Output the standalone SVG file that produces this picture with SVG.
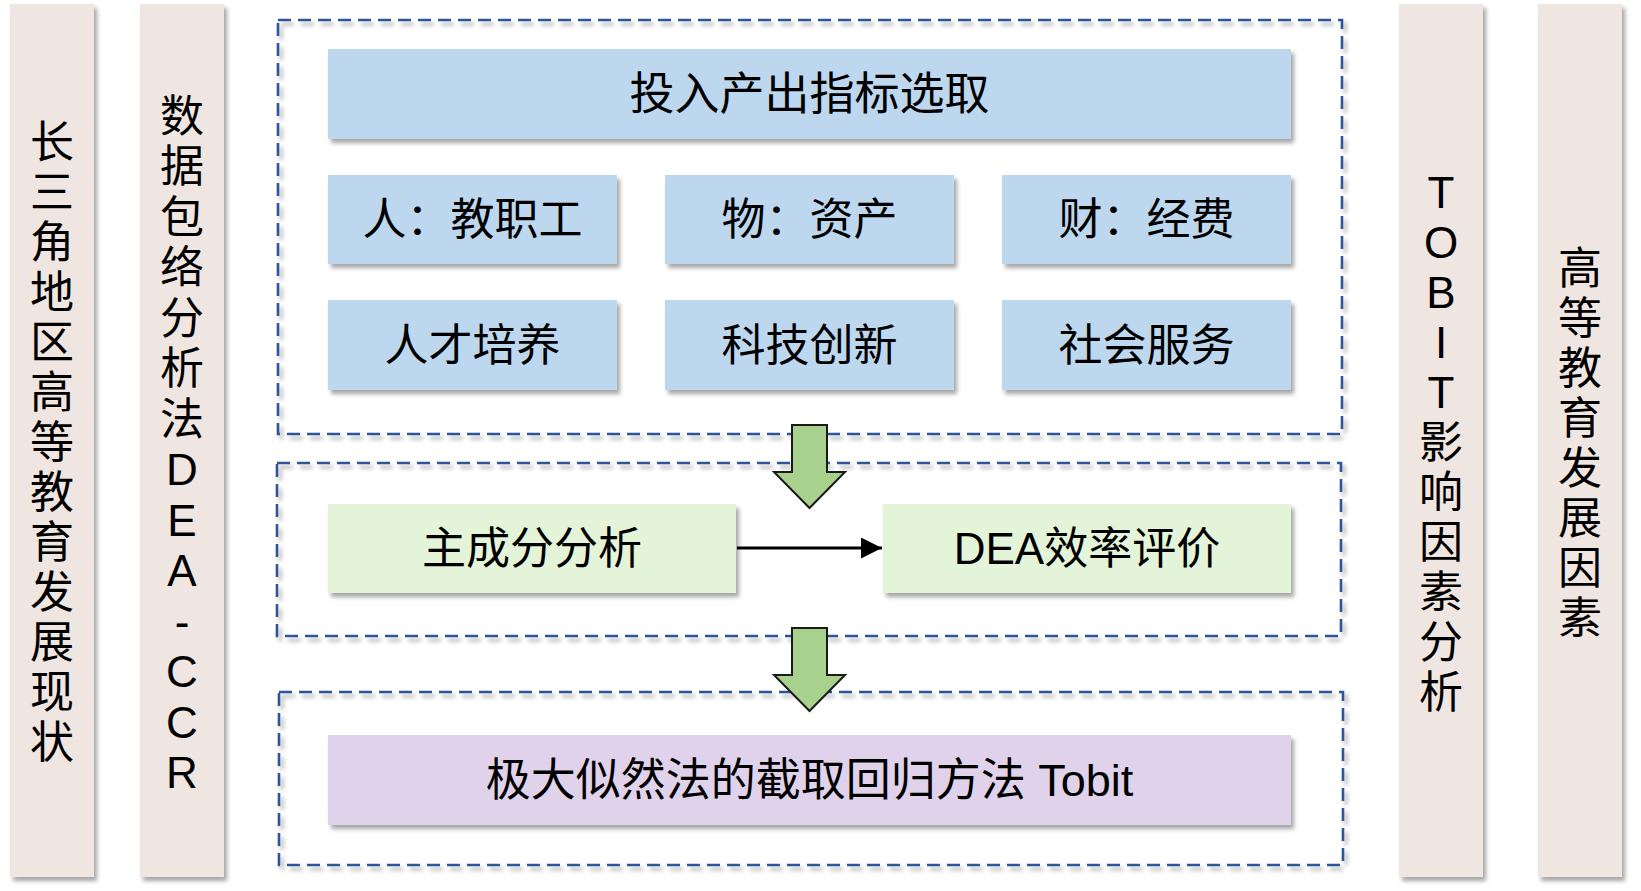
<svg xmlns="http://www.w3.org/2000/svg" width="1641" height="891" viewBox="0 0 1641 891">
<style>
.col{fill:#f0e6e1}
.blue{fill:#bdd7ee}
.green{fill:#e3f4d8}
.purple{fill:#dfd2ea}
.dash{fill:none;stroke:#2f5597;stroke-width:2.6;stroke-dasharray:13 7}
.t{font-family:"Liberation Sans","Noto Sans CJK SC",sans-serif;font-size:44px;fill:#000;text-anchor:middle}
.big{font-size:45px}
.block{fill:#a9d18e;stroke:#1a1a1a;stroke-width:2}
</style>
<defs>
<filter id="sh" x="-10%" y="-10%" width="130%" height="130%">
<feDropShadow dx="3" dy="4" stdDeviation="2.2" flood-color="#000" flood-opacity="0.35"/>
</filter>
<marker id="ah" viewBox="0 0 10 10" refX="10" refY="5" markerWidth="7" markerHeight="7" orient="auto" markerUnits="strokeWidth">
<path d="M0,0 L10,5 L0,10 z" fill="#000"/>
</marker>
</defs>
<rect width="1641" height="891" fill="#fff"/>

<g id="col-left">
<rect class="col" x="10" y="4" width="84" height="873" filter="url(#sh)"/>
<text class="t"><tspan x="52" y="158">长</tspan><tspan x="52" y="208">三</tspan><tspan x="52" y="258">角</tspan><tspan x="52" y="308">地</tspan><tspan x="52" y="358">区</tspan><tspan x="52" y="408">高</tspan><tspan x="52" y="458">等</tspan><tspan x="52" y="508">教</tspan><tspan x="52" y="558">育</tspan><tspan x="52" y="608">发</tspan><tspan x="52" y="658">展</tspan><tspan x="52" y="708">现</tspan><tspan x="52" y="758">状</tspan></text>
</g>

<g id="col-dea">
<rect class="col" x="140" y="4" width="84" height="873" filter="url(#sh)"/>
<text class="t"><tspan x="182" y="132">数</tspan><tspan x="182" y="182">据</tspan><tspan x="182" y="233">包</tspan><tspan x="182" y="283">络</tspan><tspan x="182" y="334">分</tspan><tspan x="182" y="384">析</tspan><tspan x="182" y="435">法</tspan><tspan x="182" y="485">D</tspan><tspan x="182" y="536">E</tspan><tspan x="182" y="586">A</tspan><tspan x="182" y="637">-</tspan><tspan x="182" y="687">C</tspan><tspan x="182" y="738">C</tspan><tspan x="182" y="788">R</tspan></text>
</g>

<g id="col-tobit">
<rect class="col" x="1399" y="4" width="84" height="873" filter="url(#sh)"/>
<text class="t"><tspan x="1441" y="208">T</tspan><tspan x="1441" y="258">O</tspan><tspan x="1441" y="308">B</tspan><tspan x="1441" y="358">I</tspan><tspan x="1441" y="408">T</tspan><tspan x="1441" y="458">影</tspan><tspan x="1441" y="508">响</tspan><tspan x="1441" y="558">因</tspan><tspan x="1441" y="608">素</tspan><tspan x="1441" y="658">分</tspan><tspan x="1441" y="708">析</tspan></text>
</g>

<g id="col-right">
<rect class="col" x="1538" y="4" width="84" height="873" filter="url(#sh)"/>
<text class="t"><tspan x="1580" y="284">高</tspan><tspan x="1580" y="334">等</tspan><tspan x="1580" y="384">教</tspan><tspan x="1580" y="434">育</tspan><tspan x="1580" y="484">发</tspan><tspan x="1580" y="534">展</tspan><tspan x="1580" y="584">因</tspan><tspan x="1580" y="634">素</tspan></text>
</g>

<g id="frame1"><rect class="dash" x="278" y="20" width="1064" height="414" filter="url(#sh)"/></g>
<g id="frame2"><rect class="dash" x="277" y="463" width="1064" height="173" filter="url(#sh)"/></g>
<g id="frame3"><rect class="dash" x="279" y="692" width="1064" height="173" filter="url(#sh)"/></g>

<g id="header">
<rect class="blue" x="328" y="49" width="963" height="90" filter="url(#sh)"/>
<text class="t big" x="809.5" y="110">投入产出指标选取</text>
</g>

<g id="n-ren">
<rect class="blue" x="328" y="175" width="289" height="89" filter="url(#sh)"/>
<text class="t" x="472.5" y="235">人：教职工</text>
</g>
<g id="n-wu">
<rect class="blue" x="665" y="175" width="289" height="89" filter="url(#sh)"/>
<text class="t" x="809.5" y="235">物：资产</text>
</g>
<g id="n-cai">
<rect class="blue" x="1002" y="175" width="289" height="89" filter="url(#sh)"/>
<text class="t" x="1146.5" y="235">财：经费</text>
</g>

<g id="n-rencai">
<rect class="blue" x="328" y="300" width="289" height="90" filter="url(#sh)"/>
<text class="t" x="472.5" y="361">人才培养</text>
</g>
<g id="n-keji">
<rect class="blue" x="665" y="300" width="289" height="90" filter="url(#sh)"/>
<text class="t" x="809.5" y="361">科技创新</text>
</g>
<g id="n-shehui">
<rect class="blue" x="1002" y="300" width="289" height="90" filter="url(#sh)"/>
<text class="t" x="1146.5" y="361">社会服务</text>
</g>

<g id="n-pca">
<rect class="green" x="328" y="504" width="408" height="89" filter="url(#sh)"/>
<text class="t" x="532" y="564">主成分分析</text>
</g>
<g id="n-dea">
<rect class="green" x="883" y="504" width="408" height="89" filter="url(#sh)"/>
<text class="t" x="1087" y="564">DEA效率评价</text>
</g>

<g id="n-tobit">
<rect class="purple" x="328" y="735" width="963" height="90" filter="url(#sh)"/>
<text class="t big" x="809.5" y="796">极大似然法的截取回归方法 Tobit</text>
</g>

<g id="connectors">
<path class="block" d="M792,425 H827 V472 H845 L809.5,508 L774,472 H792 Z"/>
<path class="block" d="M792,628 H827 V675 H845 L809.5,711 L774,675 H792 Z"/>
<line x1="737" y1="548" x2="882" y2="548" stroke="#000" stroke-width="3" marker-end="url(#ah)"/>
</g>
</svg>
